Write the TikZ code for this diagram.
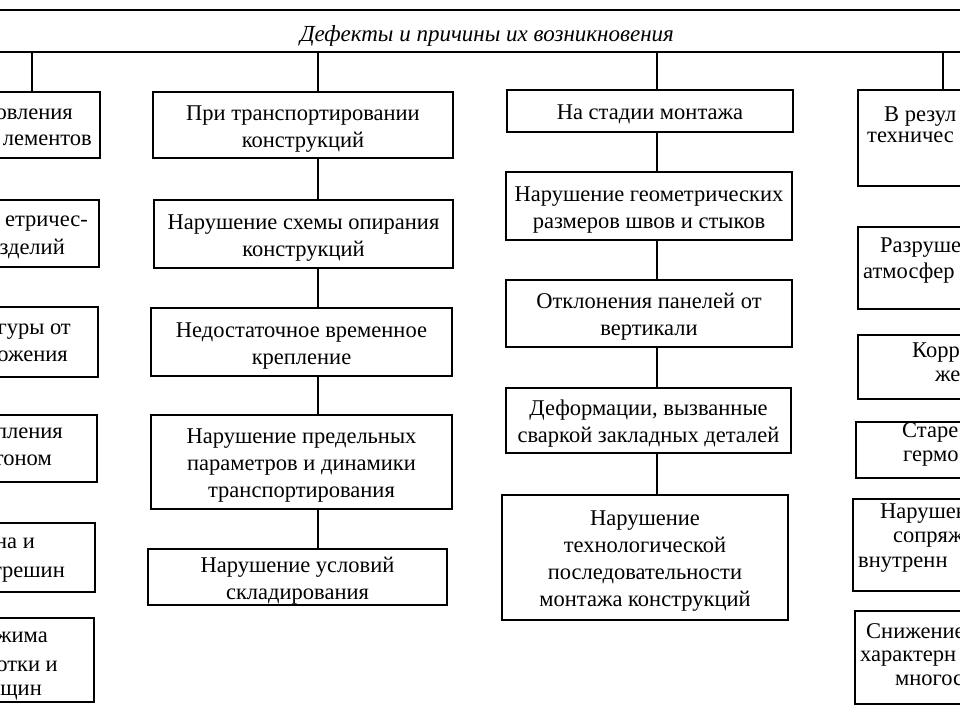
\documentclass[tikz,border=0pt]{standalone}
\usepackage{fontspec}
\setmainfont{Liberation Serif}
\newcommand{\tp}{\rule{0pt}{22pt}}
\begin{document}
\begin{tikzpicture}[x=1pt,y=-1pt,
  txt/.style={font=\fontsize{22.5}{27}\selectfont},
  box/.style={draw, line width=1.6pt, align=center, inner xsep=2pt, inner ysep=0pt, txt},
  frame/.style={draw, line width=1.6pt, inner sep=0pt},
  fragE/.style={anchor=base east, inner sep=0pt, txt},
  fragW/.style={anchor=base west, inner sep=0pt, txt},
  link/.style={line width=1.4pt}]
\useasboundingbox (0,0) rectangle (960,720);
\clip (0,0) rectangle (960,720);

% header
\coordinate (tl) at (-5,10); \coordinate (tr) at (965,10);
\coordinate (ml) at (-5,52); \coordinate (mr) at (965,52);
\draw[link] (tl) -- (tr);
\draw[link] (ml) -- (mr);
\node[anchor=base, inner sep=0pt, font=\itshape\fontsize{23}{27}\selectfont] (title) at (487,41) {Дефекты и причины их возникновения};

\coordinate (d1) at (32,52);
\coordinate (d2) at (318,52);
\coordinate (d3) at (657,52);
\coordinate (d4) at (943,52);

% left column (cut off)
\node[frame, minimum width=120pt, minimum height=66pt] (L1) at (40,125) {};
\node[frame, minimum width=119pt, minimum height=67pt] (L2) at (39.5,233.5) {};
\node[frame, minimum width=118pt, minimum height=70pt] (L3) at (39,342) {};
\node[frame, minimum width=117pt, minimum height=67pt] (L4) at (38.5,448.5) {};
\node[frame, minimum width=115pt, minimum height=69pt] (L5) at (37.5,557.5) {};
\node[frame, minimum width=114pt, minimum height=84pt] (L6) at (37,660) {};
\node[fragE] (l1a) at (73,119) {овления};
\node[fragE] (l1b) at (92,145) {лементов};
\node[fragE] (l2a) at (88,226) {етричес-};
\node[fragE] (l2b) at (65,254) {зделий};
\node[fragE] (l3a) at (71,334) {гуры от};
\node[fragE] (l3b) at (68,361) {ожения};
\node[fragE] (l4a) at (63,438) {пления};
\node[fragE] (l4b) at (52,465) {тоном};
\node[fragE] (l5a) at (35,548) {на и};
\node[fragE] (l5b) at (65,577) {трешин};
\node[fragE] (l6a) at (48,642) {жима};
\node[fragE] (l6b) at (58,671) {отки и};
\node[fragE] (l6c) at (42,695) {щин};
\draw[link] (d1) -- (L1.north -| d1);

% second column
\node[box, minimum width=300pt, minimum height=66pt] (T1) at (303,125) {\tp При транспортировании\\конструкций};
\node[box, minimum width=299pt, minimum height=68pt] (T2) at (303.5,234) {\tp Нарушение схемы опирания\\конструкций};
\node[box, minimum width=301pt, minimum height=68pt] (T3) at (301.5,342) {\tp Недостаточное временное\\крепление};
\node[box, minimum width=301pt, minimum height=94pt] (T4) at (301.5,462) {\tp Нарушение предельных\\параметров и динамики\\транспортирования};
\node[box, minimum width=299pt, minimum height=56pt] (T5) at (297.5,577) {\tp Нарушение условий\\складирования};
\draw[link] (d2) -- (T1.north -| d2);
\draw[link] (T1.south -| d2) -- (T2.north -| d2);
\draw[link] (T2.south -| d2) -- (T3.north -| d2);
\draw[link] (T3.south -| d2) -- (T4.north -| d2);
\draw[link] (T4.south -| d2) -- (T5.north -| d2);

% third column
\node[box, minimum width=286pt, minimum height=42pt] (M1) at (650,111) {\tp На стадии монтажа};
\node[box, minimum width=286pt, minimum height=68pt] (M2) at (649,206) {\tp Нарушение геометрических\\размеров швов и стыков};
\node[box, minimum width=286pt, minimum height=67pt] (M3) at (649,313.5) {\tp Отклонения панелей от\\вертикали};
\node[box, minimum width=285pt, minimum height=65pt] (M4) at (648.5,420.5) {\tp Деформации, вызванные\\сваркой закладных деталей};
\node[box, minimum width=286pt, minimum height=125pt] (M5) at (645,557.5) {\tp Нарушение\\технологической\\последовательности\\монтажа конструкций};
\draw[link] (d3) -- (M1.north -| d3);
\draw[link] (M1.south -| d3) -- (M2.north -| d3);
\draw[link] (M2.south -| d3) -- (M3.north -| d3);
\draw[link] (M3.south -| d3) -- (M4.north -| d3);
\draw[link] (M4.south -| d3) -- (M5.north -| d3);

% right column (cut off)
\node[frame, minimum width=122pt, minimum height=96pt] (R1) at (919,138) {};
\node[frame, minimum width=122pt, minimum height=82pt] (R2) at (919,268) {};
\node[frame, minimum width=122pt, minimum height=64pt] (R3) at (919,367) {};
\node[frame, minimum width=124pt, minimum height=56pt] (R4) at (918,450) {};
\node[frame, minimum width=127pt, minimum height=92pt] (R5) at (916.5,545) {};
\node[frame, minimum width=125pt, minimum height=93pt] (R6) at (917.5,657.5) {};
\node[fragW] (r1a) at (884,121) {В резул};
\node[fragW] (r1b) at (867,142) {техничес};
\node[fragW] (r2a) at (880,252) {Разруше};
\node[fragW] (r2b) at (863,278) {атмосфер};
\node[fragW] (r3a) at (912,357) {Корр};
\node[fragW] (r3b) at (935,381) {же};
\node[fragW] (r4a) at (902,437) {Старе};
\node[fragW] (r4b) at (903,461) {гермо};
\node[fragW] (r5a) at (880,518) {Нарушен};
\node[fragW] (r5b) at (893,542) {сопряже};
\node[fragW] (r5c) at (858,567) {внутренн};
\node[fragW] (r6a) at (866,638) {Снижение};
\node[fragW] (r6b) at (860,661) {характерн};
\node[fragW] (r6c) at (895,685) {многос};
\draw[link] (d4) -- (R1.north -| d4);
\end{tikzpicture}
\end{document}
